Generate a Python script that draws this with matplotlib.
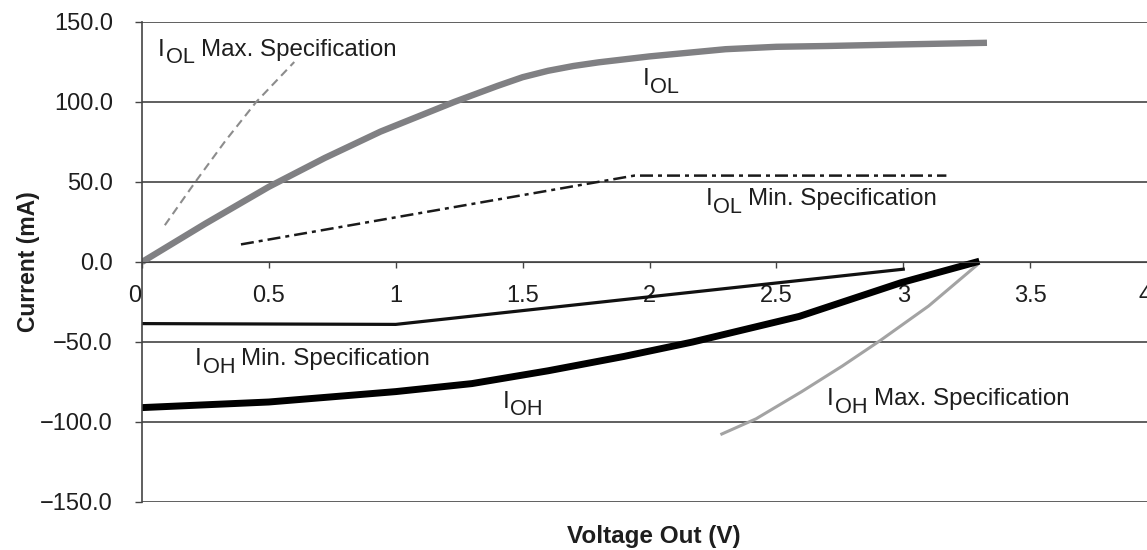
import matplotlib.pyplot as plt
from matplotlib.ticker import FuncFormatter, MultipleLocator
from matplotlib.transforms import ScaledTranslation

plt.rcParams["font.family"] = ["Liberation Sans", "DejaVu Sans"]

# curves (voltage in V, current in mA)
iol_v = [0, 0.25, 0.5, 0.72, 0.94, 1.23, 1.4, 1.5, 1.6, 1.7, 1.8, 2.0, 2.3, 2.5, 2.7, 3.0, 3.33]
iol_i = [0, 24, 47, 65, 81.5, 100, 110, 115.5, 119.5, 122.5, 124.8, 128.5, 133, 134.5, 135, 136, 137]

iol_max_v = [0.09, 0.21, 0.33, 0.45, 0.60]
iol_max_i = [23, 50, 76, 100, 125]

iol_min_v = [0.39, 1.94, 3.17]
iol_min_i = [11, 54, 54]

ioh_v = [0, 0.5, 1.0, 1.3, 1.6, 1.9, 2.17, 2.59, 2.99, 3.3]
ioh_i = [-91, -87.5, -81, -76, -68, -59, -50, -34, -13, 0.5]

ioh_min_v = [0, 1.0, 3.0]
ioh_min_i = [-38.5, -39, -4.5]

ioh_max_v = [2.285, 2.42, 2.6, 2.76, 2.91, 3.1, 3.29]
ioh_max_i = [-107.5, -98, -81, -65, -49, -27.5, -2]

FS = 17.4
TXT = "#1e1e1e"

fig = plt.figure(figsize=(11.47, 5.5), dpi=100)
ax = fig.add_axes([142 / 1147, 48 / 550, 1015 / 1147, 480 / 550])

ax.set_xlim(0, 4)
ax.set_ylim(-150, 150)

ax.plot(iol_max_v, iol_max_i, color="#8c8c8c", lw=1.5, dashes=(4, 2.5))
ax.plot(iol_min_v, iol_min_i, color="#1a1a1a", lw=1.8, dashes=(5.2, 2, 1.6, 2))
ax.plot(iol_v, iol_i, color="#808083", lw=4.6, solid_capstyle="butt")
ax.plot(ioh_min_v, ioh_min_i, color="#111111", lw=2.3)
ax.plot(ioh_max_v, ioh_max_i, color="#a3a3a3", lw=2.2)
ax.plot(ioh_v, ioh_i, color="#000000", lw=5, solid_capstyle="butt")

# axes look
ax.spines["top"].set_visible(False)
ax.spines["right"].set_visible(False)
ax.spines["bottom"].set_position(("data", 0))
ax.spines["bottom"].set_color("#444444")
ax.spines["left"].set_color("#444444")
ax.spines["left"].set_linewidth(1.2)

ax.yaxis.set_major_locator(MultipleLocator(50))
ax.xaxis.set_major_locator(MultipleLocator(0.5))
ax.yaxis.set_major_formatter(FuncFormatter(lambda v, p: f"{v:.1f}".replace("-", "\u2212")))
ax.xaxis.set_major_formatter(FuncFormatter(lambda v, p: f"{v:g}"))
ax.grid(axis="y", color="#444444", lw=1.2)
ax.set_axisbelow(True)

ax.tick_params(axis="y", direction="out", length=5, width=1, color="#444444",
               pad=16, labelsize=17, labelcolor=TXT)
ax.tick_params(axis="x", direction="out", length=4, width=1, color="#444444",
               pad=12.5, labelsize=17, labelcolor=TXT)

ax.set_ylabel("Current (mA)", fontsize=16.5, fontweight="bold", color=TXT)
ax.set_xlabel("Voltage Out (V)", fontsize=17.5, fontweight="bold", color=TXT)
ax.yaxis.set_label_coords(-0.112, 0.5)
ax.xaxis.set_label_coords(0.504, -0.071)
ax.xaxis.label.set_va("center")
ax.yaxis.label.set_va("center")

# the scan shows the "0" left of the axis and the "4" cut at the edge
fig.canvas.draw()
xlabels = ax.get_xticklabels()
shift = {"0": -7, "4": -12}
for lab in xlabels:
    dx = shift.get(lab.get_text())
    if dx:
        lab.set_transform(lab.get_transform() + ScaledTranslation(dx / 100, 0, fig.dpi_scale_trans))


def curve_label(x, y, sub, rest=""):
    t = ax.text(x, y, "I", fontsize=FS, color=TXT, va="baseline", ha="left")
    s = ax.annotate(sub, xy=(1, 0), xycoords=t, xytext=(0.8, -5.5),
                    textcoords="offset points", fontsize=FS * 0.9,
                    color=TXT, va="bottom", ha="left")
    if rest:
        ax.annotate(rest, xy=(1, 0), xycoords=s, xytext=(4.5, 5.5),
                    textcoords="offset points", fontsize=FS,
                    color=TXT, va="bottom", ha="left")


curve_label(0.062, 129, "OL", "Max. Specification")
curve_label(1.972, 110.6, "OL")
curve_label(2.22, 35.6, "OL", "Min. Specification")
curve_label(0.208, -64.4, "OH", "Min. Specification")
curve_label(1.42, -91, "OH")
curve_label(2.70, -89.4, "OH", "Max. Specification")

fig.savefig("out.png", dpi=100)
